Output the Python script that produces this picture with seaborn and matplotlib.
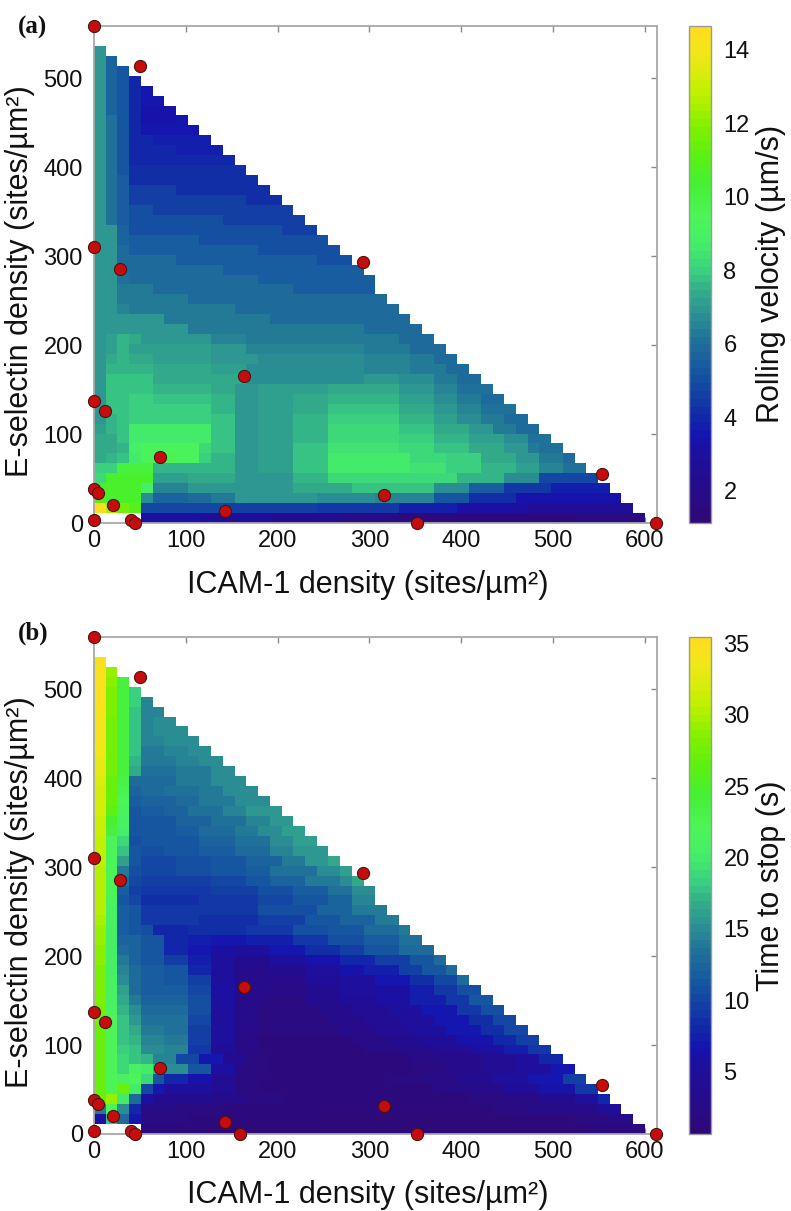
import numpy as np
import pandas as pd
import matplotlib
matplotlib.use("Agg")
import matplotlib.pyplot as plt
from matplotlib.colors import LinearSegmentedColormap
import seaborn as sns

# Each row: bottom row first; a bare number is one cell, (value, n) is a run of n equal cells.
N = float("nan")
ROLLING_VELOCITY = [
 [(N,4),(3.2,5),(2.8,6),(2.3,6),(1.8,5),(1.35,15),(1.6,6)],
 [14.5,12.5,11.5,11,(4.8,7),(4.6,8),(4.4,7),(3.8,5),(3.2,6),(2.7,9)],
 [11,(10.6,3),6.8,(5.7,3),(5.9,2),(6.3,2),(6.9,7),(6.8,5),(6.6,5),(5.3,3),(4.2,4),(3.4,9)],
 [10.5,(10.5,3),8.8,(6.6,3),(7,3),(7,6),(7.4,5),(7.7,7),(6.8,3),(5.4,3),(4.3,4),(3.7,5)],
 [8.1,(10.5,4),(7.1,3),(7.4,4),(7,5),(7.6,3),(8.3,11),(7.6,4),(6.8,3),(4.9,5)],
 [(8,2),(10,3),(7.6,5),(7.5,2),(6.9,2),(7.2,3),(7.7,3),(8.6,7),(8.4,3),(8,3),(7.5,3),(7.1,2),(6.6,2),(6,2)],
 [7.4,7.5,7.7,8.7,9.3,(9.7,2),(9.2,2),8,(7.6,2),(6.9,2),(7.2,3),(7.7,3),(8.6,7),(8.3,3),(7.9,3),(7.4,3),(7,2),(6.4,2),5.9],
 [7.3,7.4,7.6,8.8,(9.3,5),8.3,(7.7,2),(7,2),(7.2,3),(7.7,3),(8.5,6),(8.2,3),(7.8,3),(7.3,3),(6.9,2),6.4,(6,2)],
 [7.3,7.4,7.7,(8.7,7),(7.7,2),(7,2),(7.2,3),(7.6,3),(8.3,6),(8,3),(7.6,3),(7.2,3),(6.7,2),(6,2)],
 [7.2,7.5,7.7,(8.7,7),(7.7,2),(7,2),(7.2,3),(7.6,3),(8.2,6),(7.8,3),(7.4,3),(7,2),(6.4,2),(5.9,2)],
 [7,7.5,7.7,(8,7),(7.7,2),(7,2),(7.2,3),(7.5,3),(8,6),(7.6,3),(7.2,2),(6.8,2),(6.3,2),(5.9,2)],
 [7,7.7,7.8,(8,7),(7.6,2),(6.9,2),(7.2,3),(7.4,3),(7.8,6),(7.4,3),(7,2),(6.6,2),(6,3)],
 [6.9,7.8,7.8,(7.9,2),(7.8,5),(7.5,2),(6.9,2),(7.2,3),(7.3,3),(7.6,6),(7.2,3),(6.8,2),(6.3,2),(5.9,2)],
 [6.9,7.8,7.8,(7.8,2),(7.6,5),(7.4,2),(7,2),(7.1,6),(7.4,6),(7,3),(6.5,2),(6,3)],
 [7,7.7,7.7,(7.7,2),(7.4,5),(7.3,3),(6.8,10),(7,3),(6.8,3),(6.3,2),(5.9,2)],
 [7,7.6,7.6,(7.6,2),(7.3,5),(7.2,3),(6.7,10),(6.6,4),(6.3,3),(5.9,2)],
 [7,7.4,7.5,(7.4,2),(7.2,5),(7,4),(6.7,9),(6.5,4),(6.2,2),(5.8,2)],
 [7,7.2,7.6,(7.2,2),(7.1,5),(6.9,3),(6.6,10),(6.3,4),(5.8,3)],
 [7,7.1,7.6,7.3,(7,6),(6.6,3),(6.4,10),(6.2,3),(5.8,3)],
 [7,7,7,(6.9,5),(6.4,10),(6.2,5),(5.9,5)],
 [7,7,6.9,(6.9,3),(6.4,9),(5.9,12)],
 [7,7,6.6,(6.4,9),(5.9,14)],
 [7,7,6.4,(6.4,5),(5.9,17)],
 [7,7,6.2,(6.4,2),(5.9,12),(5.5,7)],
 [7,7,6,(5.9,11),(5.5,10)],
 [7,7,5.9,(5.9,8),(5.5,8),(5.4,4)],
 [7,7,5.8,(5.8,4),(5.5,12),(5.1,3)],
 [7,7,5.8,(5.5,11),(5.1,7)],
 [7,7,5.7,(5.5,6),(5.1,11)],
 [7,7,5.7,(5.1,13),(4.7,3)],
 [7,6.1,5.5,(5.1,8),(4.6,7)],
 [7,6.1,5.5,(5,2),(4.6,12)],
 [7,6.1,5.5,(4.6,10),(4.2,3)],
 [7,6.1,5.5,(4.6,4),(4.2,8)],
 [7,6.1,5.5,(4.1,11)],
 [7,6.1,5.3,(4.1,10)],
 [7,6.1,5.2,(4,7),(3.9,2)],
 [7,6.1,5.2,(4,4),(3.8,4)],
 [7,6.1,5.2,(3.9,2),(3.7,5)],
 [7,6.1,5.2,3.9,(3.5,3),(3.6,2)],
 [7,6,5.2,3.9,(3.4,3),3.6],
 [7,5.7,5.2,3.9,(3.4,3)],
 [7,5.7,5.2,3.9,(3.5,2)],
 [7,5.7,5.2,3.9,3.6],
 [7,5.7,5.2,3.9],
 [7,5.7,5.2],
 [7,5.7],
 [7],
]
TIME_TO_STOP = [
 [(N,4),(1.3,5),(1.1,33),(1.2,3),(1.7,2)],
 [6,18,13,7,(2,4),(1.6,5),(1.3,6),(1.1,17),(1.3,5),(1.9,3),(3.2,2)],
 [14,22,15,8,(2.5,3),(2,4),(1.6,5),(1.2,14),(1.4,4),(1.8,3),(2.4,3),(3.2,3),(4.5,2)],
 [27,29,20,13,6,(3.5,5),(3,3),(1.8,3),(1.2,12),(1.3,4),(1.8,3),(2.5,3),(3.5,3),(5,2),8],
 [27,22,27,20,10,7,(5,4),(4,2),(2,2),(1.3,12),(1.7,3),(2.3,3),(3.2,3),(4.5,3),(6.5,3),(9,2)],
 [27,22,21,22,19,11,(8,2),(6.5,2),(4,2),(2,2),(1.3,11),(1.9,3),(2.5,3),(3.5,3),(5,3),(7,3),(9.5,2)],
 [27,22,19,21,20,17,(15,2),(11,2),(6,2),2.5,(1.8,2),(1.4,9),(1.6,3),(2.2,3),(3,3),(4,3),(5.2,3),(7,2)],
 [27,22,19,18,17,(14.5,2),(10,2),(7,2),(3.5,2),(2,2),(1.5,9),(1.7,3),(2.3,3),(3.2,3),(4.2,3),(5.5,2),(8,2)],
 [27,22,18.5,17.5,(15,2),(14.5,2),(9,2),(4.5,2),(2.4,2),(1.6,6),(1.7,3),(2.3,3),(3.3,3),(4.4,3),(5.6,3),(7.2,2),(9,2)],
 [27,22,18,17,(14.5,2),(14,2),(9.5,2),(5,2),(2.6,2),(1.7,5),(1.7,3),(2.5,3),(3.6,3),(4.8,3),(6.2,3),(7.8,2),(9.5,2)],
 [27,22,18,16.5,(14,2),(13.5,2),(9.5,2),(5,2),(2.8,2),(1.8,4),(1.8,3),(2.8,3),(4,3),(5.2,3),(6.8,3),(8.3,2),(10,2)],
 [27.5,22,17.5,15.5,(13.5,2),(13.5,2),(10,2),(5.2,2),(3,2),(1.9,3),(1.9,3),(2.8,3),(4,3),(5,3),(6.7,3),(8.3,2),(10.2,2)],
 [27.5,21.5,17,15,(13,2),(13,2),(10.5,2),(5.5,2),(3.2,2),(2,2),(2,3),(3,3),(4.2,3),(5.5,3),(7,3),(8.8,2),(10.5,2)],
 [28,21,16.5,14,(12.5,2),(12.5,2),(10.5,2),(6,2),(3,3),(2.2,3),(3.5,3),(4.5,3),(6,3),(7.5,3),(9,2),(11,2)],
 [28,21,16,13,(12,2),(12,2),(10,2),(6,2),(3,3),(2.5,3),(3.5,3),(5,3),(6,3),(7.5,2),(9,2),(10.5,2)],
 [28,21,15,13,(12,2),(11.5,2),(9.5,2),(5.5,2),(3,3),(2.8,3),(4.5,3),(5.5,3),(7,3),(8.5,2),(10,2),13],
 [28,20.5,14.5,13,(12,2),(11,2),(8,2),(5.5,2),(3,3),(3.5,3),(5,3),(6.5,2),(7.5,3),(9.5,2),(11,2),13],
 [28.5,20.5,14,12.5,(11.5,2),(9.5,2),(7.5,2),(5.5,2),(3.5,3),(5,3),(6.5,3),(8,3),(9.5,3),(11,2),13],
 [28.5,20.5,13,12.5,(11.5,2),(8,2),(7,2),(6,2),(5,3),(7,3),(8.5,3),(9.5,2),(11,3),(13,3)],
 [29,20.5,12.5,12.5,(11.5,2),(8,2),(7.5,2),(7,3),(7.5,4),(9,3),(10.5,3),(12,3),(13.5,2)],
 [29,20.5,12,11.5,10.5,(8,3),(8.5,5),(9,4),(10.5,3),(11.5,3),(13,3),14],
 [29.5,21,12,11.5,(9,5),(8.5,5),(9.5,4),(11,3),(12.5,3),(14,2)],
 [30,21,12,11,(9,5),(9,5),(10.5,5),(12.5,3),(14,3)],
 [30,21.5,11.5,10,(8.5,5),(9,5),(10,3),(11.5,3),(12.5,2),(14.5,2)],
 [30,22,12,9.5,(9,6),(9.5,4),(10.5,3),(12,3),(13.5,2),(15,2)],
 [30,22,13,10,(9.5,6),(10,3),(11,2),(12.5,3),(14,3),15,16.5],
 [30.5,22,14,10.5,(10,3),(10.5,3),(11,3),(12,2),(13.5,4),(15,2),16],
 [31,22,16,11,(10,3),(10.5,3),(11.5,3),(12.5,3),(14,2),(15.5,2),16.5],
 [31,22,18,11,(10.5,2),(11,3),(12,3),(13,3),(14.5,2),(15.5,3)],
 [31,22,19,10.5,(11,3),(11.5,2),(12.5,3),(13.5,3),(15,2),(16,2)],
 [31.5,24,20.5,11,(11,3),(12,2),(13,3),(14,2),(15,2),(16,2)],
 [31.5,25,21,11,(11.5,3),(12.5,3),(13.5,3),(14.5,2),(15.5,2)],
 [32,26.5,21.5,11.5,(12,2),(12.5,2),(13.5,3),(14.5,2),(15.5,3)],
 [32,27,22,12,(12.5,3),(13,2),(14,3),(15,3)],
 [32,27,22.5,12.5,(12.7,2),(13.5,3),(14,2),(15,3)],
 [32.5,27,23,13,(13,3),(14,3),(15,3)],
 [33,27.5,23.5,16.5,(13.5,3),(14,3),(15,2)],
 [33,27.5,23.5,17,(14,3),(14.5,2),(15,2)],
 [33.5,27.5,23.5,17.5,(14,2),(14.5,2),(15,2)],
 [34,27.5,24,17.5,14.5,14.5,(15,3)],
 [34,27.5,24,18,14.5,(15,3)],
 [34,27.5,24,18,14.5,15,15],
 [34,28,24,18,14.5,14.5],
 [34.5,28,24,18.5,14.5],
 [34.5,28,24,18.5],
 [34.5,28.5,24],
 [34.5,29],
 [34.5],
]
# Red measured points (ICAM-1, E-selectin), sites/um2
POINTS_A_X = [0,50,0,28,293,0,12,163,72,0,4,21,40,45,0,143,316,352,553,612]
POINTS_A_Y = [558,513,310,285,293,137,126,165,74,38,34,20,3,0,3,14,31,0,55,0]
POINTS_B_X = POINTS_A_X + [159]
POINTS_B_Y = POINTS_A_Y + [0]
XTICKS = [0,100,200,300,400,500,600]
YTICKS = [0,100,200,300,400,500]
CB_A_TICKS = [2,4,6,8,10,12,14]
CB_B_TICKS = [5,10,15,20,25,30,35]
X_CELL, Y_CELL, NCOL, NROW = 12.77, 11.17, 48, 50

STOPS = [(0,"#2e0a78"),(.08,"#240c90"),(.139,"#1c10a0"),(.17,"#1414b0"),(.21,"#1228a8"),(.287,"#1450a2"),
         (.36,"#1e6e9a"),(.434,"#2f9a90"),(.47,"#33b088"),(.508,"#3ad080"),(.56,"#45ee68"),(.62,"#4cf458"),
         (.69,"#45f030"),(.75,"#60f010"),(.8,"#80f000"),(.87,"#c0f000"),(.95,"#f0e818"),(1,"#ffdc20")]
cmap = LinearSegmentedColormap.from_list("rolling", STOPS, N=64)

sns.set_theme(style="white")
plt.rcParams["font.family"] = ["Liberation Sans", "DejaVu Sans"]
W, H = 791, 1211
fig = plt.figure(figsize=(W/100, H/100), dpi=100)

def expand(rows):
    m = np.full((NROW, NCOL), np.nan)
    for r, row in enumerate(rows):
        cells = []
        for c in row:
            cells += [c[0]]*c[1] if isinstance(c, tuple) else [c]
        m[r, :len(cells)] = cells
    return pd.DataFrame(m)

def panel(rows, top, vmin, vmax, cbticks, cblabel, cbcy, px, py, tag, tagy, xlaby):
    bottom = top + 497
    ax = fig.add_axes([94/W, 1-bottom/H, 562.6/W, 497/H])
    cax = fig.add_axes([689/W, 1-bottom/H, 22/W, 497/H])
    sns.heatmap(expand(rows), ax=ax, cmap=cmap, vmin=vmin, vmax=vmax, cbar_ax=cax,
                xticklabels=False, yticklabels=False)
    ax.set_xlim(0, NCOL); ax.set_ylim(0, NROW)
    df = pd.DataFrame({"x": np.array(px)/X_CELL, "y": np.array(py)/Y_CELL})
    sns.scatterplot(data=df, x="x", y="y", ax=ax, s=76, color="#c60c0c", edgecolor="#4a1410",
                    linewidth=0.8, clip_on=False, zorder=5, legend=False)
    ax.set_xticks(np.array(XTICKS)/X_CELL, [str(v) for v in XTICKS], rotation=0)
    ax.set_yticks(np.array(YTICKS)/Y_CELL, [str(v) for v in YTICKS], rotation=0)
    ax.tick_params(direction="in", length=4, width=1, color="#8a8a8a", top=True, right=True,
                   labelsize=17, labelcolor="#111111", bottom=True, left=True)
    ax.tick_params(axis="x", pad=5)
    ax.tick_params(axis="y", pad=8)
    for s in ax.spines.values():
        s.set_visible(True); s.set_color("#a8a8a8"); s.set_linewidth(1.3)
    ax.set_xlabel(""); ax.set_ylabel("")
    fig.text(368/W, 1-xlaby/H, "ICAM-1 density (sites/µm²)", fontsize=22, ha="center", va="center", color="#111111")
    fig.text(20/W, 1-(top+255)/H, "E-selectin density (sites/µm²)", fontsize=22, rotation=90, ha="center", va="center", color="#111111")
    fig.text(18/W, 1-tagy/H, tag, fontsize=18, fontweight="bold", family="Liberation Serif", ha="left", va="center", color="#111111")
    cb = ax.collections[0].colorbar
    cb.set_ticks(cbticks)
    cb.ax.tick_params(direction="in", length=4, width=1, color="#555555", labelsize=17, labelcolor="#111111", pad=9, right=True)
    cb.outline.set_visible(True); cb.outline.set_edgecolor("#9a9a9a"); cb.outline.set_linewidth(1)
    fig.text(771/W, 1-cbcy/H, cblabel, fontsize=22, rotation=90, ha="center", va="center", color="#111111")

panel(ROLLING_VELOCITY, 26, 1.12, 14.65, CB_A_TICKS, "Rolling velocity (µm/s)", 274, POINTS_A_X, POINTS_A_Y, "(a)", 27, 585)
panel(TIME_TO_STOP, 637, 0.62, 35.44, CB_B_TICKS, "Time to stop (s)", 886, POINTS_B_X, POINTS_B_Y, "(b)", 633, 1195)
fig.savefig("out.png", dpi=100)
